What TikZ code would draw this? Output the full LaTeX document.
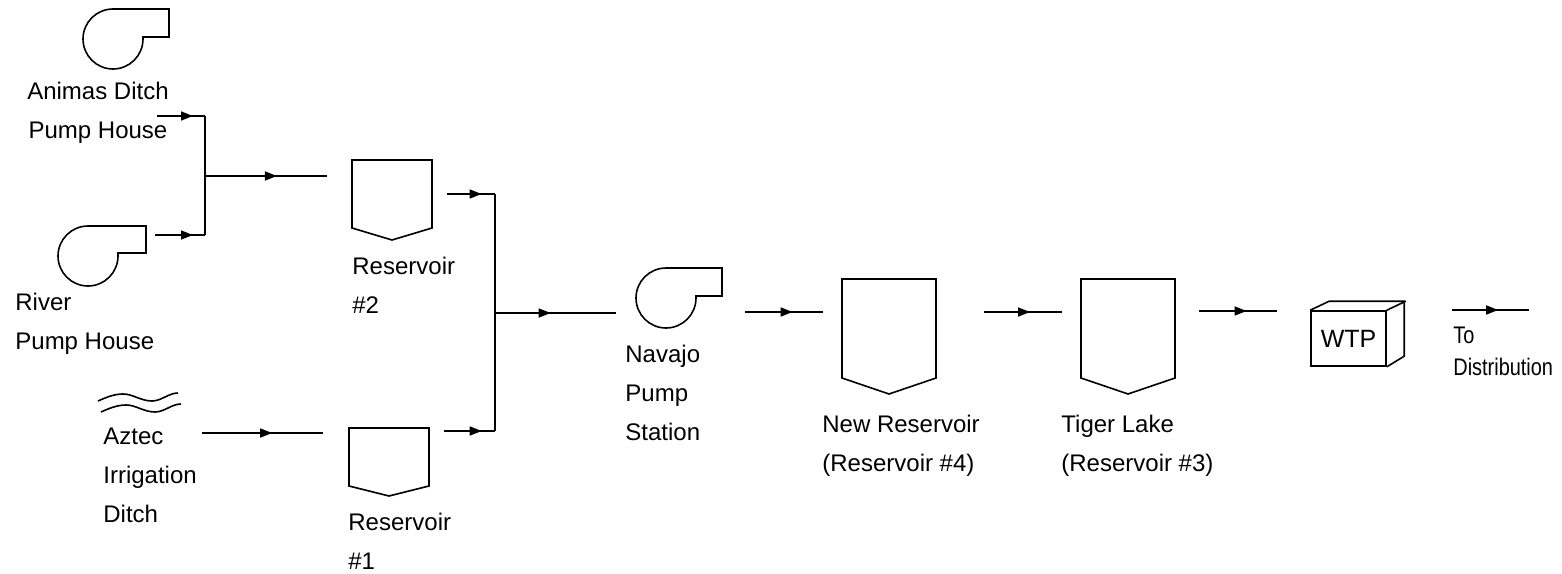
\documentclass[tikz,border=0pt]{standalone}
\usepackage{fontspec}
\setmainfont{Liberation Sans}
\usetikzlibrary{arrows.meta,decorations.markings}

\tikzset{
  pipe/.style={line width=0.8pt},
  flow/.style={pipe, postaction={decorate},
    decoration={markings, mark=at position #1 with {\arrow{Triangle[length=6pt,width=4.5pt]}}}},
  flow/.default=0.6,
  lbl/.style={font=\fontsize{12}{19.5}\selectfont, inner sep=0pt, align=left, anchor=base west},
}

\begin{document}
\begin{tikzpicture}[x=0.5pt, y=-0.5pt, line join=miter]
    \useasboundingbox (0,0) rectangle (1562,573);

    %Pumps
    \draw[pipe] (113,9) arc[start angle=270, end angle=0, radius=30] -- (143,37) -- (169,37) -- (169,9) -- cycle; %Animas Ditch
    \draw[pipe] (88,226) arc[start angle=270, end angle=0, radius=30] -- (118,253) -- (146,253) -- (146,226) -- cycle; %River
    \draw[pipe] (666,268) arc[start angle=270, end angle=0, radius=30] -- (696,296) -- (722,296) -- (722,268) -- cycle; %Navajo

    %Ditch waves
    \draw[pipe] (98,401) sin (123,394) cos (137,397.5) sin (152,401) cos (165,397) sin (178,393);
    \draw[pipe] (101,412) sin (126,405) cos (140,408.5) sin (155,412) cos (168,408) sin (181,404);

    %Reservoirs
    \draw[pipe] (352,160) -- (432,160) -- (432,228) -- (392,240) -- (352,228) -- cycle; %Reservoir 2
    \draw[pipe] (349,428) -- (429,428) -- (429,486) -- (389,496) -- (349,486) -- cycle; %Reservoir 1
    \draw[pipe] (842,279) -- (936,279) -- (936,378) -- (889,394) -- (842,378) -- cycle; %New Reservoir
    \draw[pipe] (1081,279) -- (1175,279) -- (1175,378) -- (1128,394) -- (1081,378) -- cycle; %Tiger Lake

    %Treatment plant
    \node[draw, pipe, minimum width=37.5pt, minimum height=27.5pt, inner sep=0pt,
      font=\fontsize{12.5}{14}\selectfont] (wtp) at (1348.5,338.5) {WTP};
    \draw[pipe] (wtp.north west) -- ++(19,-9) -- ++(75,0) -- ++(0,55) -- (wtp.south east);
    \draw[pipe] (wtp.north east) -- ++(19,-9);

    %Labels (placed at the baseline of the last line)
    \node[lbl, align=center, anchor=base] (animas) at (98,138) {Animas Ditch\\Pump House};
    \node[lbl] (river) at (15,349) {River\\Pump House};
    \node[lbl] (aztec) at (103,522) {Aztec\\Irrigation\\Ditch};
    \node[lbl] (res2) at (352,313) {Reservoir\\\#2};
    \node[lbl] (res1) at (348,569) {Reservoir\\\#1};
    \node[lbl] (navajo) at (625,440) {Navajo\\Pump\\Station};
    \node[lbl] (res4) at (822,471) {New Reservoir\\(Reservoir \#4)};
    \node[lbl] (tiger) at (1061,471) {Tiger Lake\\(Reservoir \#3)};
    \node[lbl, font=\fontsize{12}{16}\selectfont\addfontfeature{FakeStretch=0.83}] (dist) at (1453,375) {To\\Distribution};

    %Line ends
    \coordinate (animasout) at (157,116);
    \coordinate (riverout) at (155,235);
    \coordinate (jtop) at (205,116);
    \coordinate (jmid) at (205,176);
    \coordinate (jbot) at (205,235);
    \coordinate (res2in) at (327,176);
    \coordinate (aztecout) at (202,433);
    \coordinate (res1in) at (323,433);
    \coordinate (res2out) at (447,194);
    \coordinate (res1out) at (444,431);
    \coordinate (ktop) at (495,194);
    \coordinate (kmid) at (495,313);
    \coordinate (kbot) at (495,431);
    \coordinate (navajoin) at (616,313);
    \coordinate (navajoout) at (745,312);
    \coordinate (res4in) at (823,312);
    \coordinate (res4out) at (984,312);
    \coordinate (tigerin) at (1062,312);
    \coordinate (tigerout) at (1199,311);
    \coordinate (wtpin) at (1277,311);
    \coordinate (wtpout) at (1452,310);
    \coordinate (distend) at (1529,310);

    %Flow lines
    \draw[flow=0.75] (animasout) -- (jtop);
    \draw[flow=0.76] (riverout) -- (jbot);
    \draw[pipe, line width=1pt] (jtop) -- (jbot);
    \draw[flow=0.59] (jmid) -- (res2in);
    \draw[flow=0.58] (aztecout) -- (res1in);
    \draw[flow=0.72] (res2out) -- (ktop);
    \draw[flow=0.74] (res1out) -- (kbot);
    \draw[pipe, line width=1pt] (ktop) -- (kbot);
    \draw[flow=0.46] (kmid) -- (navajoin);
    \draw[flow=0.61] (navajoout) -- (res4in);
    \draw[flow=0.59] (res4out) -- (tigerin);
    \draw[flow=0.61] (tigerout) -- (wtpin);
    \draw[flow=0.6] (wtpout) -- (distend);

\end{tikzpicture}
\end{document}
